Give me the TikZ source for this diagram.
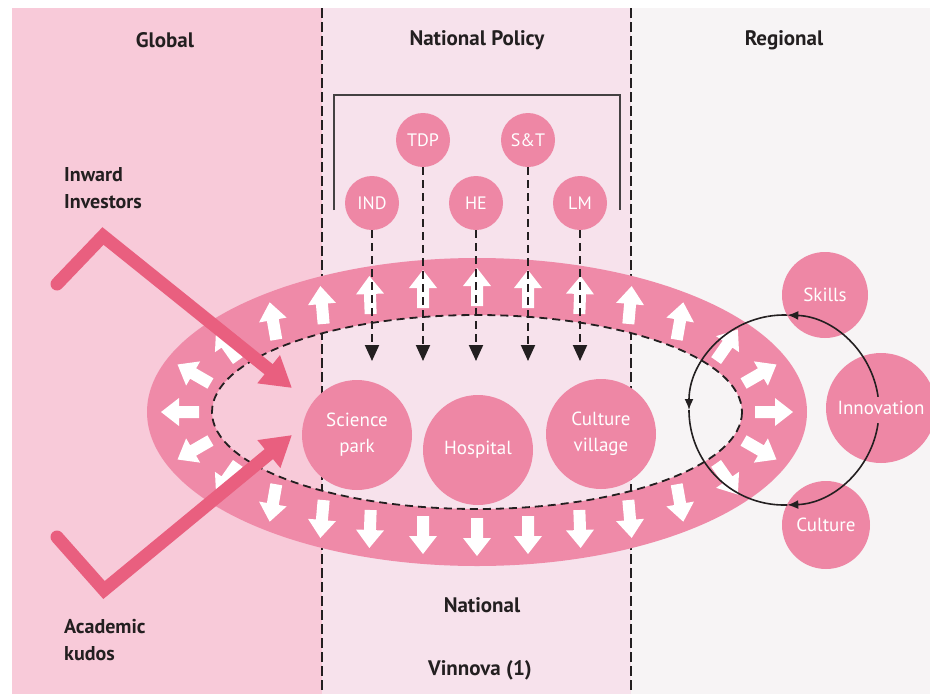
\documentclass[tikz,border=0pt]{standalone}
\usepackage{fontspec}
\setmainfont{PT Sans}
\usetikzlibrary{arrows.meta,calc}
\definecolor{globalbg}{HTML}{F8CAD9}
\definecolor{natbg}{HTML}{F7E2EC}
\definecolor{regbg}{HTML}{F7F4F5}
\definecolor{ringc}{HTML}{EF8AA8}
\definecolor{circc}{HTML}{EE87A5}
\definecolor{zigc}{HTML}{E95F7F}
\definecolor{ink}{HTML}{231F20}
\begin{document}
\begin{tikzpicture}[x=1pt,y=-1pt,
  lbl/.style={font=\fontsize{21}{24}\selectfont\bfseries, text=ink},
  sidelbl/.style={font=\fontsize{20}{27}\selectfont\bfseries, text=ink, align=left, anchor=west, inner sep=0pt},
  smallc/.style={circle, fill=circc, minimum size=54pt, inner sep=0pt, text=white, font=\fontsize{18}{20}\selectfont},
  bigc/.style={circle, fill=circc, minimum size=110pt, inner sep=0pt, text=white, align=center, font=\fontsize{19}{26}\selectfont},
  regc/.style={circle, fill=circc, inner sep=0pt, text=white, font=\fontsize{19}{22}\selectfont},
  regionline/.style={line width=2pt, ink, dash pattern=on 10pt off 4pt},
  dashdown/.style={line width=2pt, ink, dash pattern=on 8pt off 5pt, -{Triangle[length=16pt,width=14pt]}},
  zig/.style={line width=13pt, zigc, line cap=round, line join=miter, -{Triangle[length=30pt,width=34pt]}},
  loopline/.style={line width=1.6pt, ink},
  looptip/.style={-{Latex[length=11pt,width=9pt]}},
  warrow/.pic={\fill[white] (-19,-6) -- (1,-6) -- (1,-14) -- (19,0) -- (1,14) -- (1,6) -- (-19,6) -- cycle;}
]
\useasboundingbox (0,0) rectangle (930,694);
\fill[white] (0,0) rectangle (930,694);
% background regions
\fill[globalbg] (12,8) rectangle (322,694);
\fill[natbg] (322,8) rectangle (631,694);
\fill[regbg] (631,8) rectangle (930,694);
% region separators
\coordinate (l1t) at (322,8);
\coordinate (l1b) at (322,694);
\coordinate (l2t) at (631,8);
\coordinate (l2b) at (631,694);
\draw[regionline] (l1t) -- (l1b);
\draw[regionline] (l2t) -- (l2b);
% headings
\node[lbl] (global) at (165,40) {Global};
\node[lbl] (natpol) at (477,40) {National Policy};
\node[lbl] (regional) at (784,40) {Regional};
% ring
\coordinate (rc) at (477,412);
\fill[ringc, even odd rule] (rc) ellipse[x radius=330, y radius=154] (rc) ellipse[x radius=265, y radius=97];
% white arrows
\foreach \x/\y/\a in {273/321/100, 322/305/95, 370/295/92, 423/289/90, 477/287/90, 528/289/90, 580/295/88, 630/305/85, 680/321/80,
  273/503/260, 322/519/265, 370/529/268, 423/535/270, 477/537/270, 528/535/270, 580/529/272, 630/519/275, 680/503/280,
  727/345/55, 760/374/30, 774/412/0, 760/450/-30, 727/479/-55,
  227/345/125, 194/374/150, 180/412/180, 194/450/210, 227/479/235}
  \path (\x,\y) pic[rotate=\a] {warrow};
% inner dashed ellipse
\draw[line width=1.8pt, ink, dash pattern=on 8pt off 5pt] (rc) ellipse[x radius=265, y radius=97];
% central circles
\node[bigc] (sci) at (357,435) {Science\\park};
\node[bigc] (hosp) at (478,450) {Hospital};
\node[bigc] (cult) at (601,434) {Culture\\village};
% bracket
\coordinate (b1) at (334,210);
\coordinate (b2) at (334,95);
\coordinate (b3) at (620,95);
\coordinate (b4) at (620,210);
\draw[line width=1.5pt, ink!85] (b1) -- (b2) -- (b3) -- (b4);
% policy circles
\node[smallc] (ind) at (372,203) {IND};
\node[smallc] (tdp) at (423,140) {TDP};
\node[smallc] (he) at (476,203) {HE};
\node[smallc] (st) at (528,140) {S\&T};
\node[smallc] (lm) at (580,203) {LM};
\coordinate (indE) at (372,361);
\coordinate (tdpE) at (423,361);
\coordinate (heE) at (476,361);
\coordinate (stE) at (528,361);
\coordinate (lmE) at (580,361);
\draw[dashdown] (ind) -- (indE);
\draw[dashdown] (tdp) -- (tdpE);
\draw[dashdown] (he) -- (heE);
\draw[dashdown] (st) -- (stE);
\draw[dashdown] (lm) -- (lmE);
% zigzag arrows
\coordinate (z1a) at (57,284);
\coordinate (z1b) at (103,236);
\coordinate (z1c) at (292,388);
\coordinate (z2a) at (57,537);
\coordinate (z2b) at (104,590);
\coordinate (z2c) at (292,435);
\draw[zig] (z1a) -- (z1b) -- (z1c);
\draw[zig] (z2a) -- (z2b) -- (z2c);
% side labels
\node[sidelbl] (inward) at (64,188) {Inward\\Investors};
\node[sidelbl] (acad) at (64,640) {Academic\\kudos};
\node[lbl] (national) at (482,605) {National};
\node[lbl] (vinnova) at (480,670) {Vinnova (1)};
% regional circles
\node[regc, minimum size=86pt] (skills) at (825,295) {Skills};
\node[regc, minimum size=110pt] (innov) at (881,408) {Innovation};
\node[regc, minimum size=88pt] (culture) at (826,525) {Culture};
% loop
\coordinate (lc) at (784,410);
\draw[loopline, looptip] ($(lc)+(-8:95)$) arc[start angle=-8, end angle=-88, radius=95];
\draw[loopline] ($(lc)+(-88:95)$) arc[start angle=-88, end angle=-100, radius=95];
\draw[loopline, looptip] ($(lc)+(-100:95)$) arc[start angle=-100, end angle=-180, radius=95];
\draw[loopline] ($(lc)+(-180:95)$) arc[start angle=-180, end angle=-272, radius=95];
\draw[loopline, looptip] ($(lc)+(8:95)$) arc[start angle=8, end angle=88, radius=95];
\end{tikzpicture}
\end{document}
